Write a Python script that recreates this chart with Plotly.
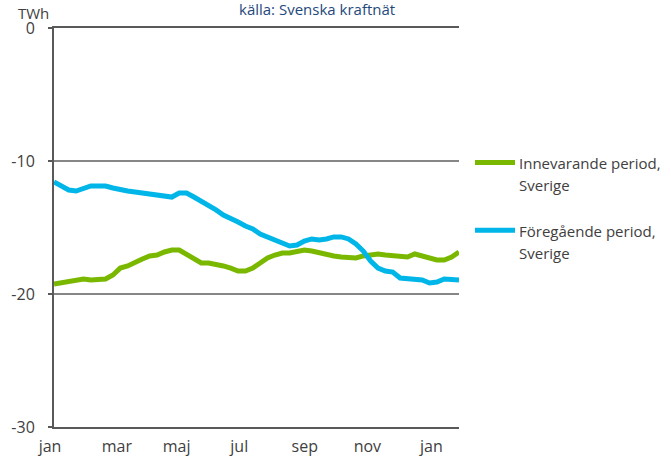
import plotly.graph_objects as go

weeks = list(range(56))
innevarande = [-19.25, -19.17, -19.10, -18.95, -18.87, -18.95, -18.87, -18.87, -18.57, -18.05,
               -17.89, -17.59, -17.37, -17.14, -17.07, -16.84, -16.69, -16.69, -16.99, -17.37,
               -17.67, -17.67, -17.74, -17.89, -18.05, -18.27, -18.27, -18.05, -17.67, -17.29,
               -17.07, -16.92, -16.92, -16.84, -16.69, -16.77, -16.92, -17.07, -17.14, -17.22,
               -17.29, -17.29, -17.14, -17.07, -16.99, -17.07, -17.14, -17.14, -17.22, -16.99,
               -17.14, -17.37, -17.44, -17.44, -17.22, -16.84]
foregaende = [-11.58, -11.88, -12.18, -12.26, -12.11, -11.88, -11.88, -11.88, -12.03, -12.18,
              -12.26, -12.33, -12.41, -12.56, -12.63, -12.71, -12.71, -12.41, -12.41, -12.71,
              -13.01, -13.31, -13.68, -14.06, -14.29, -14.59, -14.89, -15.11, -15.49, -15.71,
              -15.94, -16.17, -16.39, -16.32, -16.02, -15.86, -15.94, -15.86, -15.71, -15.71,
              -15.86, -16.24, -16.77, -17.52, -18.05, -18.27, -18.35, -18.80, -18.87, -18.95,
              -18.95, -19.17, -19.10, -18.87, -18.87, -18.95]
month_pos = [0, 9.08, 17.2, 25.7, 34.6, 43.1, 51.8]
month_labels = ["jan", "mar", "maj", "jul", "sep", "nov", "jan"]
y_ticks = [0, -10, -20, -30]
y_labels = ["0", "-10", "-20", "-30"]
series_names = [["Innevarande period,", "Sverige"], ["Föregående period,", "Sverige"]]
series_colors = ["#7AB800", "#00B6E8"]

FONT = "Open Sans"
TXT = "#404040"

fig = go.Figure()
fig.add_trace(go.Scatter(x=weeks, y=innevarande, mode="lines",
                         name=" ".join(series_names[0]), showlegend=False,
                         line=dict(color=series_colors[0], width=5)))
fig.add_trace(go.Scatter(x=weeks, y=foregaende, mode="lines",
                         name=" ".join(series_names[1]), showlegend=False,
                         line=dict(color=series_colors[1], width=5)))

# manual legend (paper coordinates to the right of the plot)
annotations = []
shapes = []
legend_rows = [0.661, 0.491]   # paper y of first line of each entry
line_gap = 0.054               # paper units between the two text lines
for names, color, yy in zip(series_names, series_colors, legend_rows):
    shapes.append(dict(type="line", xref="paper", yref="paper",
                       x0=1.0395, x1=1.1383, y0=yy + 0.002, y1=yy + 0.002,
                       line=dict(color=color, width=5)))
    for k, txt in enumerate(names):
        annotations.append(dict(text=txt, xref="paper", yref="paper",
                                x=1.1432, y=yy - k * line_gap, xanchor="left",
                                yanchor="middle", showarrow=False,
                                font=dict(family=FONT, size=15, color=TXT)))

annotations += [
    dict(text="källa: Svenska kraftnät", xref="paper", yref="paper",
         x=0.649, y=1.0, yshift=19, xanchor="center", yanchor="middle",
         showarrow=False, font=dict(family=FONT, size=15, color="#1F497D")),
    dict(text="TWh", xref="paper", yref="paper", x=0, xshift=-21,
         y=1.0, yshift=15, xanchor="center", yanchor="middle",
         showarrow=False, font=dict(family=FONT, size=15, color=TXT)),
]

fig.update_layout(
    width=671, height=461,
    margin=dict(l=54, r=212, t=28, b=34, autoexpand=False),
    paper_bgcolor="white", plot_bgcolor="white",
    font=dict(family=FONT, size=15, color=TXT),
    showlegend=False,
    xaxis=dict(range=[0, 55], tickvals=month_pos, ticktext=month_labels,
               showgrid=False, zeroline=False, showline=True, mirror=True,
               linecolor="#595959", linewidth=2, ticks="",
               ticklabelstandoff=4, ticklabelshift=-4, automargin=False,
               tickfont=dict(family=FONT, size=16, color=TXT)),
    yaxis=dict(range=[-30, 0], tickvals=y_ticks, ticktext=y_labels, showgrid=True,
               gridcolor="#868686", gridwidth=1.5, zeroline=False,
               showline=True, linecolor="#595959", linewidth=2,
               ticks="outside", ticklen=4, tickcolor="#595959", tickwidth=2,
               ticklabelstandoff=10, automargin=False,
               tickfont=dict(family=FONT, size=16, color=TXT)),
    annotations=annotations,
    shapes=shapes,
)

fig.write_html("out.html", post_script="document.body.style.margin='0';",
               config={"displayModeBar": False})
